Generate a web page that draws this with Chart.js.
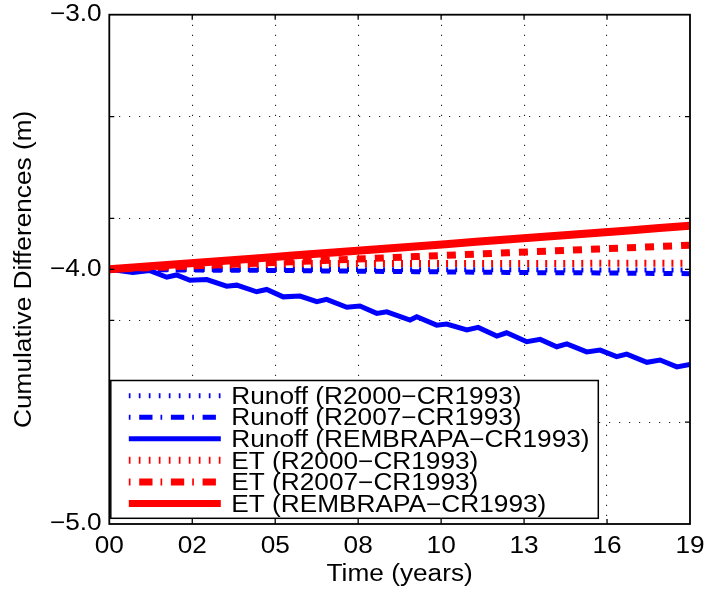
<!DOCTYPE html>
<html><head><meta charset="utf-8">
<script src="https://cdn.jsdelivr.net/npm/chart.js@4.4.1/dist/chart.umd.min.js"></script>
<style>html,body{margin:0;padding:0;background:#fff;}canvas{display:block;}</style>
</head><body>
<canvas id="c" width="707" height="595"></canvas>
<script>
// ---- data ----
const years = [0,1,2,3,4,5,6,7,8,9,10,11,12,13,14,15,16,17,18,19];
const runoffR2000 = [-4.000,-4.000,-4.000,-4.001,-4.001,-4.001,-4.001,-4.001,-4.001,-4.002,-4.002,-4.002,-4.002,-4.002,-4.002,-4.003,-4.003,-4.003,-4.003,-4.003];
const runoffR2007 = [-4.000,-4.001,-4.002,-4.003,-4.004,-4.004,-4.005,-4.006,-4.007,-4.008,-4.009,-4.010,-4.011,-4.012,-4.013,-4.013,-4.014,-4.015,-4.016,-4.017];
const runoffRemT = [0,0.77,1.33,1.88,2.20,2.64,3.19,3.84,4.17,4.82,5.15,5.69,6.24,6.79,7.11,7.77,8.20,8.75,9.08,9.84,10.06,10.71,11.04,11.70,12.07,12.68,13.00,13.66,14.10,14.64,14.97,15.62,16.06,16.60,16.93,17.59,18.02,18.57,19.00];
const runoffRem = [-4.000,-4.012,-4.005,-4.031,-4.022,-4.043,-4.040,-4.066,-4.062,-4.088,-4.079,-4.108,-4.105,-4.127,-4.118,-4.149,-4.144,-4.173,-4.167,-4.199,-4.186,-4.219,-4.215,-4.238,-4.228,-4.262,-4.249,-4.284,-4.275,-4.304,-4.293,-4.324,-4.317,-4.343,-4.333,-4.365,-4.356,-4.383,-4.373];
const etR2000 = [-4.000,-3.993,-3.988,-3.985,-3.983,-3.980,-3.978,-3.977,-3.977,-3.977,-3.977,-3.977,-3.977,-3.977,-3.977,-3.977,-3.976,-3.976,-3.976,-3.976];
const etR2007 = [-4.000,-3.995,-3.990,-3.985,-3.980,-3.975,-3.970,-3.965,-3.960,-3.955,-3.950,-3.945,-3.940,-3.935,-3.930,-3.925,-3.920,-3.915,-3.910,-3.905];
const etRem = [-4.000,-3.991,-3.982,-3.973,-3.964,-3.955,-3.946,-3.937,-3.928,-3.919,-3.910,-3.901,-3.892,-3.883,-3.874,-3.865,-3.856,-3.847,-3.838,-3.829];
const seriesLabels = ['Runoff (R2000\u2212CR1993)','Runoff (R2007\u2212CR1993)','Runoff (REMBRAPA\u2212CR1993)','ET (R2000\u2212CR1993)','ET (R2007\u2212CR1993)','ET (REMBRAPA\u2212CR1993)'];
const xTickValues = [0, 2.7143, 5.4286, 8.1429, 10.8571, 13.5714, 16.2857, 19];
const xTickLabels = ['00','02','05','08','10','13','16','19'];
const yTickValues = [-5.0, -4.6, -4.2, -4.0, -3.8, -3.4, -3.0];
const yTickLabels = ['\u22125.0','','','\u22124.0','','','\u22123.0'];
const yGridValues = [-4.6, -4.2, -3.8, -3.4];
const xTitle = 'Time (years)';
const yTitle = 'Cumulative Differences (m)';

// ---- styling ----
const BLUE = '#0000ff', RED = '#ff0000';
const FONT = 'Liberation Sans';
const FSIZE = 23;
const SX = 1.14; // horizontal text stretch to match reference glyph widths

const canvas = document.getElementById('c');
const ctx0 = canvas.getContext('2d');
const origFill = CanvasRenderingContext2D.prototype.fillText;
ctx0.fillText = function(t, x, y, mw) {
  this.save();
  this.translate(x, y);
  this.scale(SX, 1);
  if (mw === undefined || mw === null) origFill.call(this, t, 0, 0);
  else origFill.call(this, t, 0, 0, mw / SX);
  this.restore();
};

const pts = (xs, ys) => xs.map((v, i) => ({x: v, y: ys[i]}));

const legendStyles = [
  {color: BLUE, width: 5, dash: [1.7, 8.3]},
  {color: BLUE, width: 5, dash: [1.7, 8.7, 13.3, 8]},
  {color: BLUE, width: 5, dash: []},
  {color: RED, width: 7, dash: [1.7, 8.3]},
  {color: RED, width: 7, dash: [1.7, 8.7, 13.3, 8]},
  {color: RED, width: 7, dash: []}
];

const framePlugin = {
  id: 'frame',
  afterDatasetsDraw(chart) {
    const {ctx, chartArea: {left, right, top, bottom}, scales: {x, y}} = chart;
    ctx.save();
    ctx.strokeStyle = '#000';
    ctx.lineWidth = 1.3;
    ctx.setLineDash([]);
    const TL = 5;
    ctx.beginPath();
    xTickValues.slice(1, -1).forEach(v => {
      const px = x.getPixelForValue(v);
      ctx.moveTo(px, bottom); ctx.lineTo(px, bottom - TL);
      ctx.moveTo(px, top); ctx.lineTo(px, top + TL);
    });
    yTickValues.slice(1, -1).forEach(v => {
      const py = y.getPixelForValue(v);
      ctx.moveTo(left, py); ctx.lineTo(left + TL, py);
      ctx.moveTo(right, py); ctx.lineTo(right - TL, py);
    });
    ctx.stroke();
    ctx.lineWidth = 1.8;
    ctx.strokeRect(left, top, right - left, bottom - top);
    ctx.restore();
  }
};

const legendPlugin = {
  id: 'customLegend',
  afterDraw(chart) {
    const {ctx, chartArea: {left, bottom}} = chart;
    const bx = left + 1.5, by = bottom - 143.5, bw = 487.5, bh = 137.8;
    ctx.save();
    ctx.fillStyle = '#fff';
    ctx.fillRect(bx, by, bw, bh);
    ctx.strokeStyle = '#000';
    ctx.lineWidth = 1.5;
    ctx.setLineDash([]);
    ctx.strokeRect(bx, by, bw, bh);
    const rowH = 21.55;
    const y0 = by + 15.2;
    ctx.font = FSIZE + 'px "' + FONT + '"';
    ctx.textAlign = 'left';
    ctx.textBaseline = 'alphabetic';
    seriesLabels.forEach((lab, i) => {
      const cy = y0 + i * rowH;
      const st = legendStyles[i];
      ctx.beginPath();
      ctx.strokeStyle = st.color;
      ctx.lineWidth = st.width;
      ctx.lineCap = 'butt';
      ctx.setLineDash(st.dash);
      ctx.lineDashOffset = 0;
      ctx.moveTo(bx + 18, cy);
      ctx.lineTo(bx + 110, cy);
      ctx.stroke();
      ctx.setLineDash([]);
      ctx.fillStyle = '#000';
      ctx.fillText(lab, bx + 120.5, cy + 8.2);
    });
    ctx.restore();
  }
};

Chart.defaults.font.family = FONT;
Chart.defaults.font.size = FSIZE;
Chart.defaults.color = '#000';

new Chart(ctx0, {
  type: 'line',
  data: {
    datasets: [
      {label: seriesLabels[5], data: pts(years, etRem), borderColor: RED, borderWidth: 8, order: 0},
      {label: seriesLabels[4], data: pts(years, etR2007), borderColor: RED, borderWidth: 7, borderDash: [9.015, 9.015], borderDashOffset: 4.7, order: 1},
      {label: seriesLabels[3], data: pts(years, etR2000), borderColor: RED, borderWidth: 7, borderDash: [2, 7.015], borderDashOffset: 5.715, order: 2},
      {label: seriesLabels[2], data: pts(runoffRemT, runoffRem), borderColor: BLUE, borderWidth: 5, order: 3},
      {label: seriesLabels[1], data: pts(years, runoffR2007), borderColor: BLUE, borderWidth: 5, borderDash: [9.015, 9.015], borderDashOffset: 4.7, order: 4},
      {label: seriesLabels[0], data: pts(years, runoffR2000), borderColor: BLUE, borderWidth: 5, borderDash: [2, 7.015], borderDashOffset: 5.715, order: 5}
    ].map(d => Object.assign({pointRadius: 0, pointHoverRadius: 0, tension: 0, fill: false, borderCapStyle: 'butt', borderJoinStyle: 'miter'}, d))
  },
  options: {
    responsive: false,
    animation: false,
    events: [],
    layout: {padding: {top: 14.7, right: 17, bottom: 0, left: 0}},
    plugins: {legend: {display: false}, tooltip: {enabled: false}, title: {display: false}},
    scales: {
      x: {
        type: 'linear', min: 0, max: 19,
        afterBuildTicks: s => { s.ticks = xTickValues.map(v => ({value: v})); },
        afterFit: s => { s.height = 71; s.paddingLeft = 0; s.paddingRight = 0; },
        ticks: {autoSkip: false, maxRotation: 0, padding: 9, callback: (v, i) => xTickLabels[i], font: {size: FSIZE}},
        grid: {drawTicks: false, lineWidth: 1.1,
          color: c => (c.index > 0 && c.index < xTickValues.length - 1) ? '#222' : 'rgba(0,0,0,0)'},
        border: {display: false, dash: [1.2, 8.8]},
        title: {display: true, text: xTitle, padding: {top: 0, bottom: 7}, font: {size: FSIZE}}
      },
      y: {
        type: 'linear', min: -5, max: -3,
        afterBuildTicks: s => { s.ticks = yTickValues.map(v => ({value: v})); },
        afterFit: s => { s.width = 109.3; s.paddingTop = 0; s.paddingBottom = 0; },
        ticks: {autoSkip: false, padding: 7.6, callback: (v, i) => yTickLabels[i], font: {size: FSIZE}},
        grid: {drawTicks: false, lineWidth: 1.1,
          color: c => (c.tick && yGridValues.some(g => Math.abs(g - c.tick.value) < 1e-6)) ? '#222' : 'rgba(0,0,0,0)'},
        border: {display: false, dash: [1.2, 8.8]},
        title: {display: true, text: yTitle, padding: {top: 11, bottom: 0}, font: {size: FSIZE}}
      }
    }
  },
  plugins: [framePlugin, legendPlugin]
});
</script>
</body></html>
